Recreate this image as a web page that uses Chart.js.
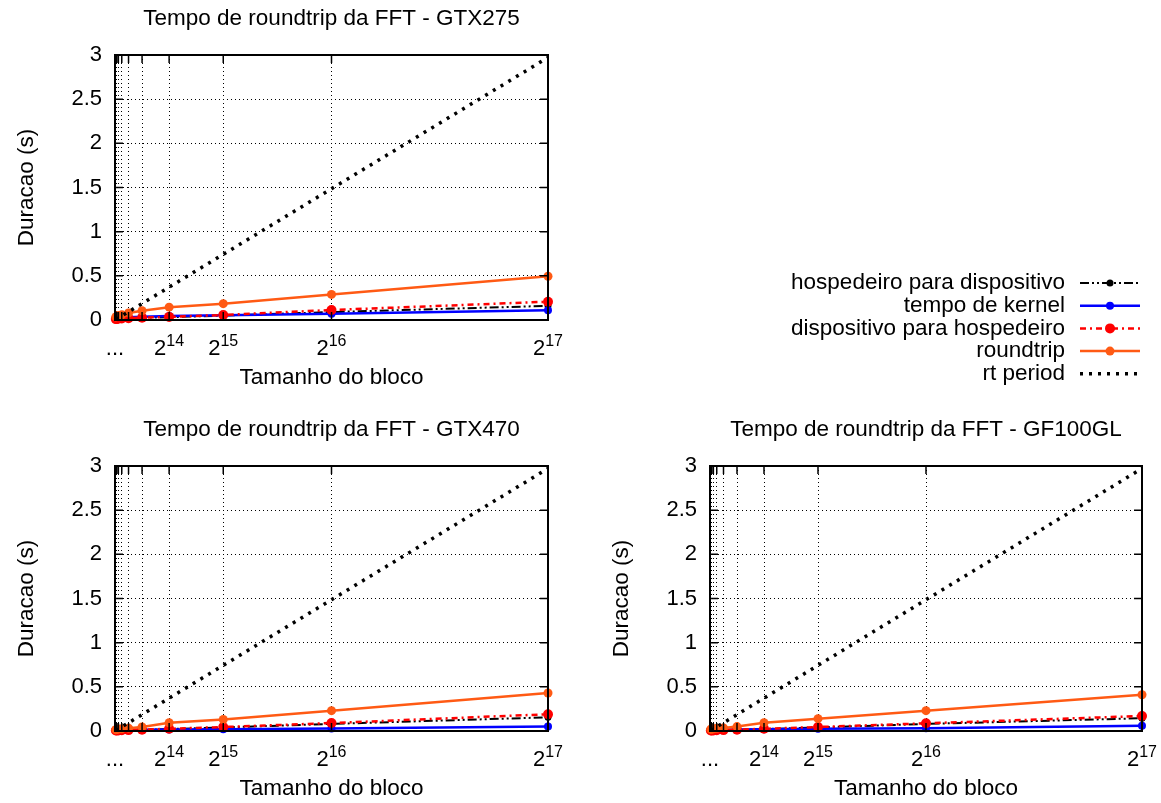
<!DOCTYPE html>
<html>
<head>
<meta charset="utf-8">
<script src="https://cdn.jsdelivr.net/npm/chart.js@4/dist/chart.umd.min.js"></script>
<style>
  html, body { margin: 0; padding: 0; background: #fff; }
  body { width: 1161px; height: 803px; position: relative; overflow: hidden; }
  canvas { position: absolute; }
</style>
</head>
<body>
<canvas id="chart275" width="1161" height="400" style="left:0;top:0"></canvas>
<canvas id="chart470" width="580" height="403" style="left:0;top:400px"></canvas>
<canvas id="chartGF" width="581" height="403" style="left:580px;top:400px"></canvas>
<script>
// Block sizes (x values) and grid positions
const blockSizes = [256, 512, 1024, 2048, 4096, 8192, 16384, 32768, 65536, 131072];
const gridPowers = [64, 128, 256, 512, 1024, 2048, 4096, 8192, 16384, 32768, 65536, 131072];
const xLabelValues = [0, 16384, 32768, 65536, 131072];
const xLabelTexts = [['...', ''], ['2', '14'], ['2', '15'], ['2', '16'], ['2', '17']];
const yTicks = [0, 0.5, 1, 1.5, 2, 2.5, 3];

const seriesNames = ['hospedeiro para dispositivo', 'tempo de kernel', 'dispositivo para hospedeiro', 'roundtrip', 'rt period'];

// rt period (same for all cards)
const rtPeriod = [0.0058, 0.0116, 0.0232, 0.0464, 0.0929, 0.186, 0.372, 0.743, 1.486, 2.972];

// GTX275
const h2d275 = [0.01, 0.012, 0.014, 0.016, 0.02, 0.025, 0.032, 0.05, 0.09, 0.16];
const kernel275 = [0.02, 0.02, 0.022, 0.025, 0.03, 0.038, 0.045, 0.053, 0.07, 0.11];
const d2h275 = [0.01, 0.012, 0.014, 0.016, 0.02, 0.026, 0.035, 0.057, 0.113, 0.207];
const round275 = [0.035, 0.04, 0.05, 0.06, 0.08, 0.105, 0.145, 0.185, 0.29, 0.495];

// GTX470
const h2d470 = [0.005, 0.006, 0.007, 0.008, 0.01, 0.014, 0.022, 0.04, 0.08, 0.155];
const kernel470 = [0.008, 0.009, 0.01, 0.011, 0.012, 0.014, 0.016, 0.02, 0.028, 0.05];
const d2h470 = [0.005, 0.006, 0.007, 0.008, 0.01, 0.015, 0.025, 0.045, 0.09, 0.19];
const round470 = [0.015, 0.018, 0.022, 0.026, 0.032, 0.045, 0.094, 0.13, 0.23, 0.43];

// GF100GL
const h2dGF = [0.005, 0.006, 0.007, 0.008, 0.01, 0.014, 0.022, 0.04, 0.08, 0.145];
const kernelGF = [0.008, 0.009, 0.01, 0.012, 0.014, 0.017, 0.02, 0.025, 0.03, 0.06];
const d2hGF = [0.005, 0.006, 0.007, 0.008, 0.01, 0.015, 0.025, 0.045, 0.087, 0.17];
const roundGF = [0.02, 0.022, 0.025, 0.03, 0.035, 0.05, 0.094, 0.14, 0.23, 0.41];

const FONT = '"Liberation Sans", Arial, Helvetica, sans-serif';
const ORANGE = '#ff5a14';

const styles = [
  { color: '#000000', dash: [9, 3, 2, 3, 2, 3], width: 2, radius: 3.5, order: 5 },
  { color: '#0000ff', dash: [], width: 2.5, radius: 4, order: 4 },
  { color: '#ff0000', dash: [6, 4, 2, 4], width: 2.5, radius: 5, order: 3 },
  { color: ORANGE, dash: [], width: 2.5, radius: 4.5, order: 2 },
  { color: '#000000', dash: [3, 6], width: 3.5, radius: 0, order: 1 },
];

function toPoints(values) {
  return blockSizes.map((x, i) => ({ x, y: values[i] }));
}

function buildDatasets(seriesValues) {
  return seriesValues.map((values, i) => ({
    label: seriesNames[i],
    data: toPoints(values),
    borderColor: styles[i].color,
    backgroundColor: styles[i].color,
    borderWidth: styles[i].width,
    borderDash: styles[i].dash,
    pointRadius: styles[i].radius,
    pointBorderWidth: 0,
    pointBackgroundColor: styles[i].color,
    tension: 0,
    order: styles[i].order,
    clip: false,
  }));
}

// Titles, axis labels, box and inward ticks (gnuplot style)
const decorPlugin = {
  id: 'decor',
  afterDraw(chart, args, opts) {
    const { ctx, chartArea: a, scales } = chart;
    const xs = scales.x, ys = scales.y;
    ctx.save();
    ctx.fillStyle = '#000';
    ctx.strokeStyle = '#000';

    // plot title
    ctx.font = '22.5px ' + FONT;
    ctx.textAlign = 'center';
    ctx.textBaseline = 'middle';
    const cx = (a.left + a.right) / 2;
    ctx.fillText(opts.title, cx, a.top - 36);

    // x axis title
    ctx.fillText('Tamanho do bloco', cx, a.bottom + 58);

    // y axis title
    ctx.save();
    ctx.translate(a.left - 88, (a.top + a.bottom) / 2);
    ctx.rotate(-Math.PI / 2);
    ctx.fillText('Duracao (s)', 0, 0);
    ctx.restore();

    // x tick labels with superscripts
    xLabelValues.forEach((v, i) => {
      const px = xs.getPixelForValue(v);
      const [base, exp] = xLabelTexts[i];
      ctx.font = '22px ' + FONT;
      const bw = ctx.measureText(base).width;
      ctx.font = '16px ' + FONT;
      const ew = ctx.measureText(exp).width;
      const start = px - (bw + ew) / 2;
      ctx.textAlign = 'left';
      ctx.textBaseline = 'alphabetic';
      ctx.font = '22px ' + FONT;
      ctx.fillText(base, start, a.bottom + 35);
      ctx.font = '16px ' + FONT;
      ctx.fillText(exp, start + bw, a.bottom + 26);
    });

    // inward tick marks on all four sides
    ctx.lineWidth = 1.5;
    ctx.beginPath();
    gridPowers.forEach(v => {
      const px = xs.getPixelForValue(v);
      ctx.moveTo(px, a.bottom); ctx.lineTo(px, a.bottom - 8);
      ctx.moveTo(px, a.top); ctx.lineTo(px, a.top + 8);
    });
    yTicks.forEach(v => {
      const py = ys.getPixelForValue(v);
      ctx.moveTo(a.left, py); ctx.lineTo(a.left + 8, py);
      ctx.moveTo(a.right, py); ctx.lineTo(a.right - 8, py);
    });
    ctx.stroke();

    // frame
    ctx.lineWidth = 2;
    ctx.strokeRect(a.left, a.top, a.right - a.left, a.bottom - a.top);
    ctx.restore();
  }
};

// Legend in the empty top-right quadrant
const legendPlugin = {
  id: 'sideLegend',
  afterDraw(chart, args, opts) {
    if (!opts.show) return;
    const { ctx } = chart;
    ctx.save();
    ctx.font = '22.5px ' + FONT;
    ctx.textAlign = 'right';
    ctx.textBaseline = 'middle';
    chart.data.datasets.forEach((ds, i) => {
      const y = opts.top + i * opts.rowGap;
      ctx.fillStyle = '#000';
      ctx.fillText(ds.label, opts.textRight, y);
      ctx.strokeStyle = ds.borderColor;
      ctx.lineWidth = ds.borderWidth;
      ctx.setLineDash(ds.borderDash);
      ctx.beginPath();
      ctx.moveTo(opts.lineLeft, y);
      ctx.lineTo(opts.lineRight, y);
      ctx.stroke();
      ctx.setLineDash([]);
      if (ds.pointRadius > 0) {
        ctx.fillStyle = ds.borderColor;
        ctx.beginPath();
        ctx.arc((opts.lineLeft + opts.lineRight) / 2, y, ds.pointRadius, 0, Math.PI * 2);
        ctx.fill();
      }
    });
    ctx.restore();
  }
};

function createChart(id, title, seriesValues, padding, legend) {
  const ctx = document.getElementById(id).getContext('2d');
  return new Chart(ctx, {
    type: 'line',
    data: { datasets: buildDatasets(seriesValues) },
    options: {
      responsive: false,
      animation: false,
      devicePixelRatio: 1,
      layout: { padding },
      plugins: {
        legend: { display: false },
        tooltip: { enabled: false },
        title: { display: false },
        decor: { title },
        sideLegend: legend || { show: false },
      },
      scales: {
        x: {
          type: 'linear',
          min: 0,
          max: 131072,
          afterBuildTicks: scale => { scale.ticks = gridPowers.map(v => ({ value: v })); },
          afterFit: scale => { scale.height = 60; },
          ticks: { display: false },
          grid: { color: '#000', lineWidth: 1, drawTicks: false },
          border: { display: false, dash: [1, 3] },
        },
        y: {
          type: 'linear',
          min: 0,
          max: 3,
          afterBuildTicks: scale => { scale.ticks = yTicks.map(v => ({ value: v })); },
          afterFit: scale => { scale.width = 50; },
          ticks: {
            color: '#000',
            padding: 13,
            font: { family: FONT, size: 22 },
            callback: v => String(v),
          },
          grid: { color: '#000', lineWidth: 1, drawTicks: false },
          border: { display: false, dash: [1, 3] },
        },
      },
    },
    plugins: [decorPlugin, legendPlugin],
  });
}

createChart('chart275', 'Tempo de roundtrip da FFT - GTX275',
  [h2d275, kernel275, d2h275, round275, rtPeriod],
  { left: 65, right: 613, top: 55, bottom: 20 },
  { show: true, top: 283, rowGap: 22.7, textRight: 1065, lineLeft: 1080, lineRight: 1140 });

createChart('chart470', 'Tempo de roundtrip da FFT - GTX470',
  [h2d470, kernel470, d2h470, round470, rtPeriod],
  { left: 65, right: 32, top: 66, bottom: 12 });

createChart('chartGF', 'Tempo de roundtrip da FFT - GF100GL',
  [h2dGF, kernelGF, d2hGF, roundGF, rtPeriod],
  { left: 80, right: 19, top: 66, bottom: 12 });
</script>
</body>
</html>
